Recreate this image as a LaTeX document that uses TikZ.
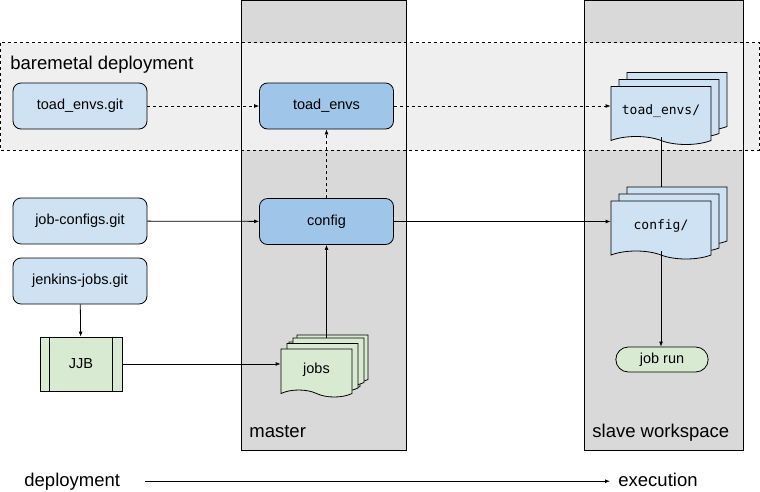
\documentclass[tikz,border=0pt]{standalone}
\usepackage{fontspec}
\setmainfont{Liberation Sans}
\setmonofont{DejaVu Sans Mono}
\usetikzlibrary{positioning,arrows.meta,shapes.symbols,shapes.misc,shadows}
\definecolor{gitblue}{HTML}{CFE2F3}
\definecolor{masterblue}{HTML}{9FC5E8}
\definecolor{jobgreen}{HTML}{D9EAD3}
\definecolor{colgray}{HTML}{D9D9D9}
\definecolor{boxgray}{HTML}{EFEFEF}

\begin{document}
\begin{tikzpicture}[x=1pt, y=-1pt, line width=0.8pt, font=\fontsize{14.5}{17}\selectfont,
    >={Latex[length=5pt,width=4pt]},
    gitnode/.style={draw, rounded corners=8pt, fill=gitblue, minimum width=134pt, minimum height=46pt},
    masternode/.style={gitnode, fill=masterblue},
    docstack/.style={draw, tape, tape bend top=none, tape bend bottom=out and in, tape bend height=8pt,
        copy shadow={shadow xshift=16pt, shadow yshift=14pt}, copy shadow={shadow xshift=8pt, shadow yshift=7pt},
        minimum width=100pt, minimum height=58pt, fill=gitblue, font=\ttfamily\fontsize{13}{15}\selectfont},
    biglabel/.style={anchor=base west, inner sep=0pt, font=\fontsize{18.5}{22}\selectfont}]
    \useasboundingbox (0,0) rectangle (760,491);

    % columns and deployment box
    \fill[colgray] (241,0) rectangle (406,450);
    \fill[colgray] (584,0) rectangle (743,450);
    \draw[dashed, fill=boxgray] (0.5,42.5) rectangle (759,150);
    \draw (241,0) rectangle (406,450);
    \draw (584,0) rectangle (743,450);

    \node [biglabel] (baremetal) at (10,69.5) {baremetal deployment};
    \node [biglabel] (master) at (249,437) {master};
    \node [biglabel] (slave) at (592,437) {slave workspace};

    % sources
    \node [gitnode] (toadgit) at (80,106) {toad\_envs.git};
    \node [gitnode] (configgit) at (80,221) {job-configs.git};
    \node [gitnode] (jenkinsgit) at (80,281) {jenkins-jobs.git};
    \node [draw, fill=jobgreen, minimum width=82pt, minimum height=54pt] (jjb) at (81,364) {JJB};
    \draw ([xshift=10pt]jjb.north west) -- ([xshift=10pt]jjb.south west);
    \draw ([xshift=-10pt]jjb.north east) -- ([xshift=-10pt]jjb.south east);

    % master
    \node [masternode] (toadenvs) at (326.5,106) {toad\_envs};
    \node [masternode] (config) at (326.5,221.5) {config};
    \node [docstack, fill=jobgreen, font=\fontsize{14.5}{17}\selectfont, minimum width=71pt, minimum height=48pt,
        copy shadow={shadow xshift=12pt, shadow yshift=11pt}, copy shadow={shadow xshift=6pt, shadow yshift=5.5pt},
        tape bend height=7pt] (jobs) at (316.5,369.5) {jobs};

    % slave workspace
    \node [docstack] (toaddir) at (661,111.5) {toad\_envs/};
    \node [docstack] (configdir) at (661,226) {config/};
    \node [draw, rounded rectangle, fill=jobgreen, minimum width=99pt, minimum height=25pt] (jobrun) at (662,359.5) {job run};

    % connectors
    \draw [->, dashed] (toadgit) -- (toadenvs);
    \draw [->, dashed] (toadenvs.east) -- (toadenvs.east -| toaddir.west);
    \draw [->, dashed] (config) -- (toadenvs);
    \draw [->] (configgit) -- (config);
    \draw [->] (config.east) -- (config.east -| configdir.west);
    \draw (toaddir.south) -- ([yshift=14pt]configdir.north);
    \draw [->] (configdir.south) -- (configdir.south |- jobrun.north);
    \draw [->] (jenkinsgit) -- (jjb);
    \draw [->] (jjb.east) -- (jjb.east -| jobs.west);
    \draw [->] ([yshift=11pt]jobs.north -| config.south) -- (config.south);

    \node [biglabel] (deploy) at (24,486) {deployment};
    \node [biglabel] (exec) at (618,486) {execution};
    \draw [->, shorten <=25pt, shorten >=8pt] (deploy.east) -- (deploy.east -| exec.west);
\end{tikzpicture}
\end{document}
